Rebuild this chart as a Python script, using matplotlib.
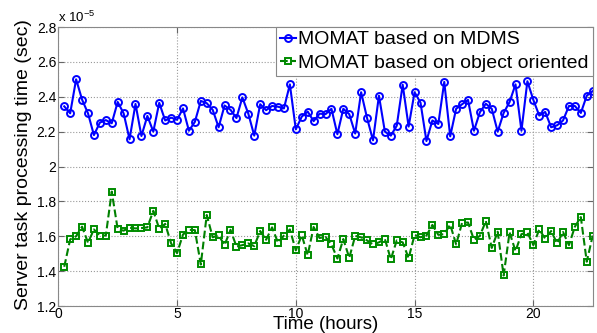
import numpy as np
import matplotlib
matplotlib.use("Agg")
import matplotlib.pyplot as plt

plt.rcParams['font.family'] = ['Liberation Sans', 'DejaVu Sans']
plt.rcParams['mathtext.fontset'] = 'custom'
plt.rcParams['mathtext.rm'] = 'Liberation Sans'
plt.rcParams['mathtext.it'] = 'Liberation Sans'
plt.rcParams['mathtext.bf'] = 'Liberation Sans'

# time in hours (one sample every 15 minutes)
time_hours = np.arange(1, 91) * 0.25

# values in units of 1e-5 sec
mdms = [2.345, 2.305, 2.50, 2.384, 2.305, 2.18, 2.252, 2.266, 2.248, 2.37,
        2.305, 2.156, 2.359, 2.175, 2.29, 2.20, 2.365, 2.264, 2.28, 2.268,
        2.333, 2.205, 2.256, 2.376, 2.363, 2.325, 2.225, 2.35, 2.325, 2.278,
        2.396, 2.303, 2.177, 2.357, 2.323, 2.347, 2.343, 2.333, 2.471, 2.213,
        2.286, 2.315, 2.26, 2.303, 2.30, 2.331, 2.185, 2.331, 2.30, 2.189,
        2.426, 2.278, 2.15, 2.406, 2.20, 2.177, 2.234, 2.469, 2.229, 2.426,
        2.366, 2.146, 2.264, 2.244, 2.485, 2.173, 2.331, 2.357, 2.382, 2.205,
        2.311, 2.36, 2.331, 2.20, 2.307, 2.37, 2.471, 2.205, 2.489, 2.382,
        2.292, 2.313, 2.225, 2.236, 2.264, 2.347, 2.347, 2.307, 2.406, 2.432]

object_oriented = [1.425, 1.582, 1.60, 1.655, 1.563, 1.639, 1.604, 1.604, 1.856, 1.641,
                   1.632, 1.649, 1.645, 1.647, 1.651, 1.746, 1.643, 1.671, 1.559, 1.503,
                   1.61, 1.637, 1.635, 1.438, 1.722, 1.594, 1.606, 1.549, 1.637, 1.541,
                   1.549, 1.559, 1.543, 1.63, 1.58, 1.651, 1.563, 1.604, 1.639, 1.519,
                   1.606, 1.492, 1.653, 1.59, 1.596, 1.553, 1.472, 1.584, 1.476, 1.602,
                   1.594, 1.576, 1.553, 1.565, 1.584, 1.468, 1.576, 1.565, 1.474, 1.608,
                   1.594, 1.604, 1.665, 1.608, 1.612, 1.667, 1.553, 1.677, 1.679, 1.58,
                   1.602, 1.687, 1.533, 1.626, 1.375, 1.622, 1.515, 1.612, 1.622, 1.549,
                   1.639, 1.586, 1.63, 1.559, 1.624, 1.549, 1.655, 1.71, 1.454, 1.604]

xticks = [0, 5, 10, 15, 20]
yticks = [1.2, 1.4, 1.6, 1.8, 2.0, 2.2, 2.4, 2.6, 2.8]
ytick_labels = ['1.2', '1.4', '1.6', '1.8', '2', '2.2', '2.4', '2.6', '2.8']

W, H = 597, 333
fig = plt.figure(figsize=(W / 100, H / 100), dpi=100)
ax = fig.add_axes([58.3 / W, 1 - 306 / H, (592.7 - 58.3) / W, (306 - 27) / H])

ax.plot(time_hours, mdms, '-o', color=(0, 0, 1), lw=1.5, ms=5,
        mfc='none', mec=(0, 0, 1), mew=1.4, label='MOMAT based on MDMS')
ax.plot(time_hours, object_oriented, '--s', color=(0, 0.5, 0), lw=1.5, ms=4.5,
        mfc='none', mec=(0, 0.55, 0), mew=1.4, label='MOMAT based on object oriented')

ax.set_xlim(0, 22.5)
ax.set_ylim(1.2, 2.8)
ax.set_xticks(xticks)
ax.set_xticklabels([str(t) for t in xticks])
ax.set_yticks(yticks)
ax.set_yticklabels(ytick_labels)
ax.tick_params(direction='in', labelsize=10, length=4, color='#666666',
               top=True, right=True)
ax.tick_params(axis='x', pad=1)
ax.tick_params(axis='y', pad=1.5)
ax.grid(True, linestyle=':', color='#999999', lw=0.8)
for s in ax.spines.values():
    s.set_color('#888888')

ax.set_xlabel('Time (hours)', fontsize=13.5)
ax.xaxis.set_label_coords((325.5 - 58.3) / (592.7 - 58.3), -(333 - 306) / (306 - 27))
ax.xaxis.label.set_va('bottom')
ax.set_ylabel('Server task processing time (sec)', fontsize=14)
ax.yaxis.set_label_coords(-(58.3 - 24) / (592.7 - 58.3), (306 - 165) / (306 - 27))
ax.yaxis.label.set_va('center')
ax.text(0.0, 1.006, r'x 10$^{-5}$', transform=ax.transAxes, fontsize=9.5,
        ha='left', va='bottom')

leg = ax.legend(loc='upper right', fontsize=14, numpoints=1, fancybox=False,
                borderaxespad=0, framealpha=1, edgecolor='#888888',
                handlelength=0.85, handletextpad=0.1, borderpad=0.2,
                labelspacing=0.3)
leg.get_frame().set_linewidth(0.8)

fig.savefig('out.png', dpi=100)
